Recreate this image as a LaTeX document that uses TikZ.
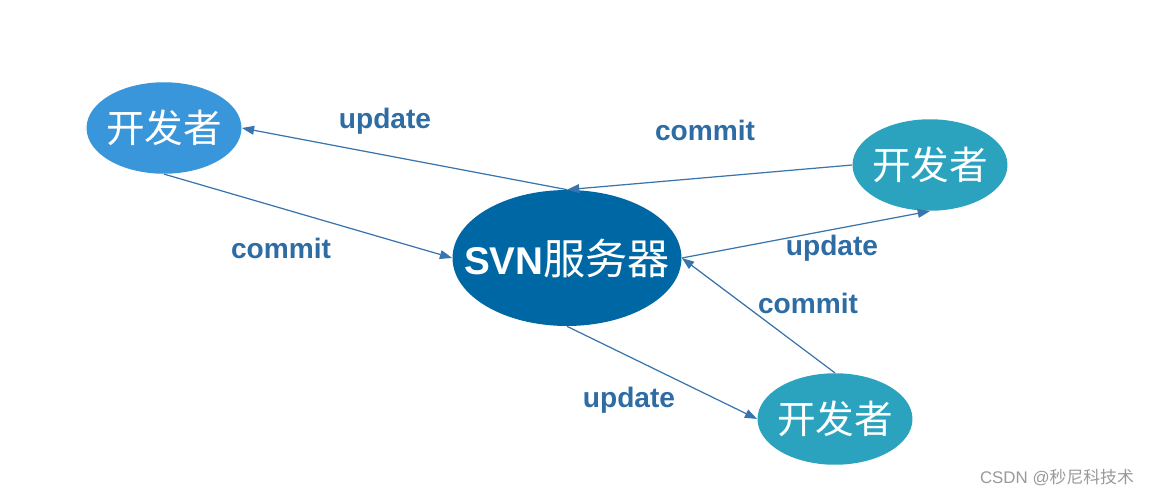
\documentclass[tikz,border=0pt]{standalone}
\usepackage{fontspec}
\setmainfont{Liberation Sans}
\newfontfamily\cjk{Noto Sans CJK SC}
\usepackage{tikz}
\usetikzlibrary{arrows.meta,shapes.geometric}

\definecolor{devblue}{HTML}{3A96DA}
\definecolor{devteal}{HTML}{2CA3BE}
\definecolor{svnblue}{HTML}{0067A5}
\definecolor{linkblue}{HTML}{3A74AD}
\definecolor{labelblue}{HTML}{2E6CA4}

% text that does not widen its ellipse
\newcommand{\nowide}[1]{\makebox[0pt]{#1}}

\begin{document}
\begin{tikzpicture}[
    x=0.02cm, y=-0.02cm,
    dev/.style={ellipse, draw=none, inner sep=0pt, minimum width=3.1cm, minimum height=1.83cm, text=white, font=\cjk\fontsize{22}{24}\selectfont},
    server/.style={ellipse, draw=none, inner sep=0pt, minimum width=4.58cm, minimum height=2.72cm, fill=svnblue, text=white},
    link/.style={line width=0.7pt, linkblue, -{Triangle[length=7pt,width=5pt]}},
    tag/.style={font=\bfseries\fontsize{16}{18}\selectfont, text=labelblue}
  ]
  \useasboundingbox (0,0) rectangle (1159,497);

  \node[dev, fill=devblue] (devA) at (164,128) {\nowide{开发者}};
  \node[dev, fill=devteal] (devB) at (930,165) {\nowide{开发者}};
  \node[dev, fill=devteal] (devC) at (835,419) {\nowide{开发者}};
  \node[server] (svn) at (567,258) {\nowide{\bfseries\fontsize{22}{24}\selectfont SVN\cjk\mdseries\fontsize{24}{26}\selectfont 服务器}};

  \draw[link] (svn.north) -- (devA.east);
  \draw[link] (devA.south) -- (svn.west);
  \draw[link] (devB.west) -- (svn.north);
  \draw[link] (svn.east) -- (devB.south);
  \draw[link] (devC.north) -- (svn.east);
  \draw[link] (svn.south) -- (devC.west);

  \node[tag] (updA) at (385,121) {update};
  \node[tag] (comA) at (281,248) {commit};
  \node[tag] (comB) at (705,130) {commit};
  \node[tag] (updB) at (832,248) {update};
  \node[tag] (comC) at (808,303) {commit};
  \node[tag] (updC) at (629,400) {update};

  \node[text=gray!80, font=\fontsize{9.6}{11}\selectfont] (mark) at (1057,478) {CSDN @{\cjk 秒尼科技术}};
\end{tikzpicture}
\end{document}
